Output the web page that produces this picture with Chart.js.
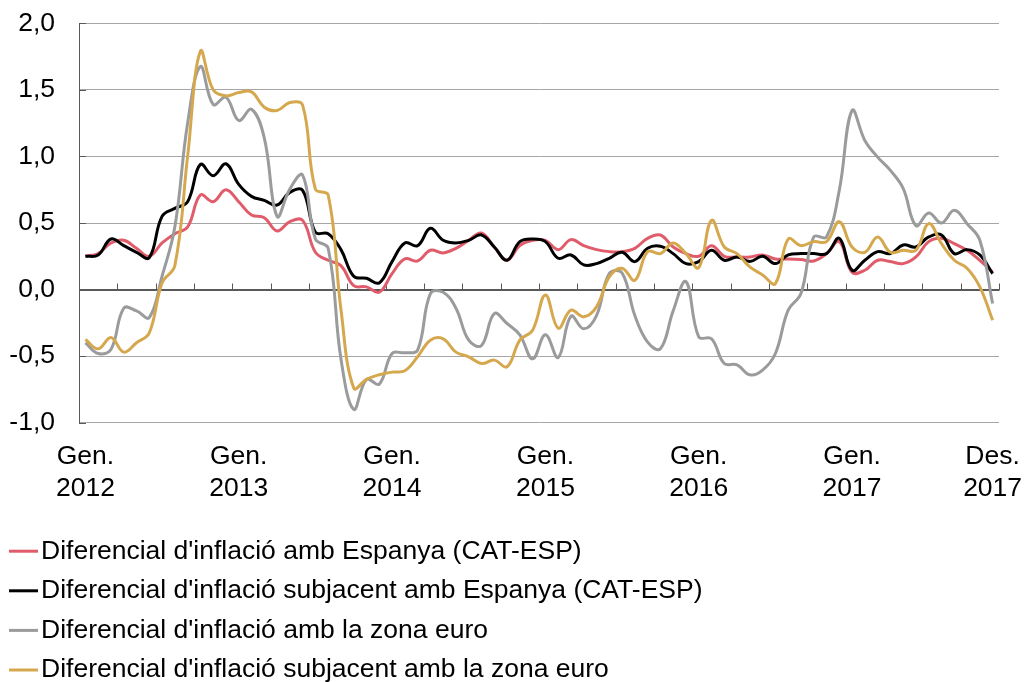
<!DOCTYPE html>
<html><head><meta charset="utf-8">
<script src="https://cdn.jsdelivr.net/npm/chart.js@4.4.1/dist/chart.umd.min.js"></script>
<style>html,body{margin:0;padding:0;background:#fff}#wrap{width:1024px;height:682px;position:relative}</style>
</head><body><div id="wrap"><canvas id="c"></canvas></div>
<script>
const monthNames = ['Gen.','Febr.','Març','Abr.','Maig','Juny','Jul.','Ag.','Set.','Oct.','Nov.','Des.'];
const years = [2012, 2013, 2014, 2015, 2016, 2017];
const yTicks = [-1.0, -0.5, 0.0, 0.5, 1.0, 1.5, 2.0];

const seriesNames = [
  "Diferencial d'inflació amb Espanya (CAT-ESP)",
  "Diferencial d'inflació subjacent amb Espanya (CAT-ESP)",
  "Diferencial d'inflació amb la zona euro",
  "Diferencial d'inflació subjacent amb la zona euro"
];
const seriesColors = ['#E05C6B', '#000000', '#9A9B9D', '#D6A84E'];

const catEsp = [
  0.25, 0.27, 0.35, 0.37, 0.31, 0.25, 0.35, 0.42, 0.47, 0.71, 0.66, 0.75,
  0.66, 0.56, 0.54, 0.44, 0.51, 0.52, 0.28, 0.22, 0.18, 0.03, 0.02, -0.02,
  0.12, 0.23, 0.215, 0.295, 0.275, 0.31, 0.37, 0.425, 0.32, 0.22, 0.33, 0.37,
  0.37, 0.30, 0.375, 0.33, 0.30, 0.285, 0.285, 0.31, 0.385, 0.41, 0.32, 0.27,
  0.25, 0.33, 0.25, 0.245, 0.245, 0.26, 0.23, 0.23, 0.225, 0.215, 0.27, 0.36,
  0.13, 0.145, 0.22, 0.21, 0.195, 0.245, 0.36, 0.385, 0.345, 0.295, 0.22, 0.13
];
const catEspSubj = [
  0.25, 0.26, 0.38, 0.33, 0.28, 0.24, 0.55, 0.61, 0.66, 0.94, 0.855, 0.945,
  0.79, 0.70, 0.67, 0.635, 0.73, 0.745, 0.43, 0.42, 0.30, 0.10, 0.085, 0.05,
  0.21, 0.35, 0.33, 0.46, 0.37, 0.35, 0.37, 0.41, 0.32, 0.22, 0.36, 0.38,
  0.36, 0.235, 0.26, 0.185, 0.195, 0.235, 0.28, 0.21, 0.31, 0.325, 0.27, 0.195,
  0.21, 0.295, 0.22, 0.245, 0.21, 0.25, 0.195, 0.26, 0.27, 0.27, 0.27, 0.385,
  0.145, 0.22, 0.285, 0.27, 0.335, 0.32, 0.395, 0.41, 0.27, 0.30, 0.26, 0.12
];
const catEuro = [
  -0.40, -0.48, -0.45, -0.14, -0.16, -0.21, 0.10, 0.47, 1.25, 1.675, 1.39, 1.445,
  1.27, 1.355, 1.14, 0.55, 0.755, 0.86, 0.38, 0.31, -0.52, -0.90, -0.675, -0.71,
  -0.48, -0.475, -0.455, -0.03, -0.02, -0.14, -0.38, -0.42, -0.18, -0.255, -0.34, -0.52,
  -0.34, -0.51, -0.20, -0.295, -0.195, 0.12, 0.125, -0.195, -0.395, -0.445, -0.16, 0.06,
  -0.355, -0.37, -0.555, -0.565, -0.64, -0.605, -0.48, -0.155, -0.03, 0.395, 0.395, 0.745,
  1.345, 1.12, 0.995, 0.895, 0.76, 0.48, 0.575, 0.50, 0.595, 0.495, 0.37, -0.105
];
const catEuroSubj = [
  -0.375, -0.445, -0.36, -0.47, -0.40, -0.325, 0.05, 0.18, 1.0, 1.79, 1.50, 1.455,
  1.48, 1.485, 1.37, 1.345, 1.405, 1.385, 0.755, 0.71, -0.15, -0.74, -0.675, -0.64,
  -0.62, -0.61, -0.505, -0.38, -0.37, -0.47, -0.505, -0.555, -0.53, -0.58, -0.38, -0.305,
  -0.04, -0.29, -0.155, -0.205, -0.13, 0.095, 0.16, 0.07, 0.285, 0.27, 0.35, 0.27,
  0.165, 0.52, 0.32, 0.27, 0.17, 0.11, 0.045, 0.38, 0.33, 0.36, 0.36, 0.51,
  0.32, 0.28, 0.395, 0.28, 0.295, 0.295, 0.495, 0.345, 0.22, 0.16, 0.02, -0.23
];
const seriesValues = [catEsp, catEspSubj, catEuro, catEuroSubj];

const categories = [];
years.forEach(y => monthNames.forEach(m => categories.push(m + ' ' + y)));

const FONT = 'Liberation Sans, Arial, sans-serif';
const FS = 26.5;

const axisDecor = {
  id: 'axisDecor',
  beforeDatasetsDraw(chart) {
    const {ctx, chartArea: a, scales: {x, y}} = chart;
    ctx.save();
    ctx.strokeStyle = '#595959';
    ctx.lineWidth = 1;
    const y0 = Math.round(y.getPixelForValue(0)) + 0.5;
    ctx.beginPath();
    ctx.moveTo(a.left, y0); ctx.lineTo(a.right, y0);
    const n = categories.length;
    for (let k = 3; k <= n; k += 3) {
      const px = k < n ? (x.getPixelForValue(k - 1) + x.getPixelForValue(k)) / 2
                       : x.getPixelForValue(n - 1) + (x.getPixelForValue(n - 1) - x.getPixelForValue(n - 2)) / 2;
      const xx = Math.round(px) + 0.5;
      ctx.moveTo(xx, y0); ctx.lineTo(xx, y0 - 7);
    }
    yTicks.forEach(v => {
      const yy = Math.round(y.getPixelForValue(v)) + 0.5;
      ctx.moveTo(a.left, yy); ctx.lineTo(a.left + 7, yy);
    });
    ctx.stroke();
    ctx.restore();
  }
};

const lineLegend = {
  id: 'lineLegend',
  afterDraw(chart) {
    const {ctx, chartArea: a} = chart;
    ctx.save();
    ctx.font = FS + 'px ' + FONT;
    ctx.textBaseline = 'middle';
    ctx.textAlign = 'left';
    chart.data.datasets.forEach((ds, i) => {
      const yy = a.bottom + 128.5 + i * 39.6;
      ctx.strokeStyle = ds.borderColor;
      ctx.lineWidth = 3;
      ctx.beginPath();
      ctx.moveTo(9, yy); ctx.lineTo(38, yy);
      ctx.stroke();
      ctx.fillStyle = '#000';
      ctx.fillText(ds.label, 41, yy);
    });
    ctx.restore();
  }
};

new Chart(document.getElementById('c'), {
  type: 'line',
  data: {
    labels: categories,
    datasets: seriesValues.map((vals, i) => ({
      label: seriesNames[i],
      data: vals,
      borderColor: seriesColors[i],
      backgroundColor: seriesColors[i],
      borderWidth: 3,
      pointRadius: 0,
      tension: 0.4,
      fill: false,
      order: 3 - i
    }))
  },
  options: {
    responsive: true,
    maintainAspectRatio: false,
    animation: false,
    layout: {padding: {left: 0, right: 25, top: 23.3, bottom: 0}},
    plugins: {legend: {display: false}, tooltip: {enabled: false}},
    scales: {
      x: {
        type: 'category',
        offset: true,
        grid: {display: false, drawTicks: false},
        border: {display: false},
        ticks: {
          autoSkip: false,
          maxRotation: 0,
          minRotation: 0,
          padding: 18,
          color: '#000',
          font: {family: FONT, size: FS},
          callback: function(value, index) {
            if (index % 12 === 0 || index === categories.length - 1) {
              return this.getLabelForValue(value).split(' ');
            }
            return null;
          }
        },
        afterFit(scale) {
          scale.height = 259.3;
          scale.paddingLeft = 0; scale.paddingRight = 0;
        }
      },
      y: {
        min: -1, max: 2,
        grid: {
          color: ctx => (ctx.tick && ctx.tick.value === 0) ? '#595959' : '#A6A6A6',
          lineWidth: 1,
          drawTicks: false
        },
        border: {display: true, color: '#595959', width: 1},
        ticks: {
          stepSize: 0.5,
          padding: 24,
          color: '#000',
          font: {family: FONT, size: FS},
          callback: v => v.toFixed(1).replace('.', ',')
        },
        afterFit(scale) {
          scale.width = 79;
          scale.paddingTop = 0; scale.paddingBottom = 0;
        }
      }
    }
  },
  plugins: [axisDecor, lineLegend]
});
</script>
</body></html>
